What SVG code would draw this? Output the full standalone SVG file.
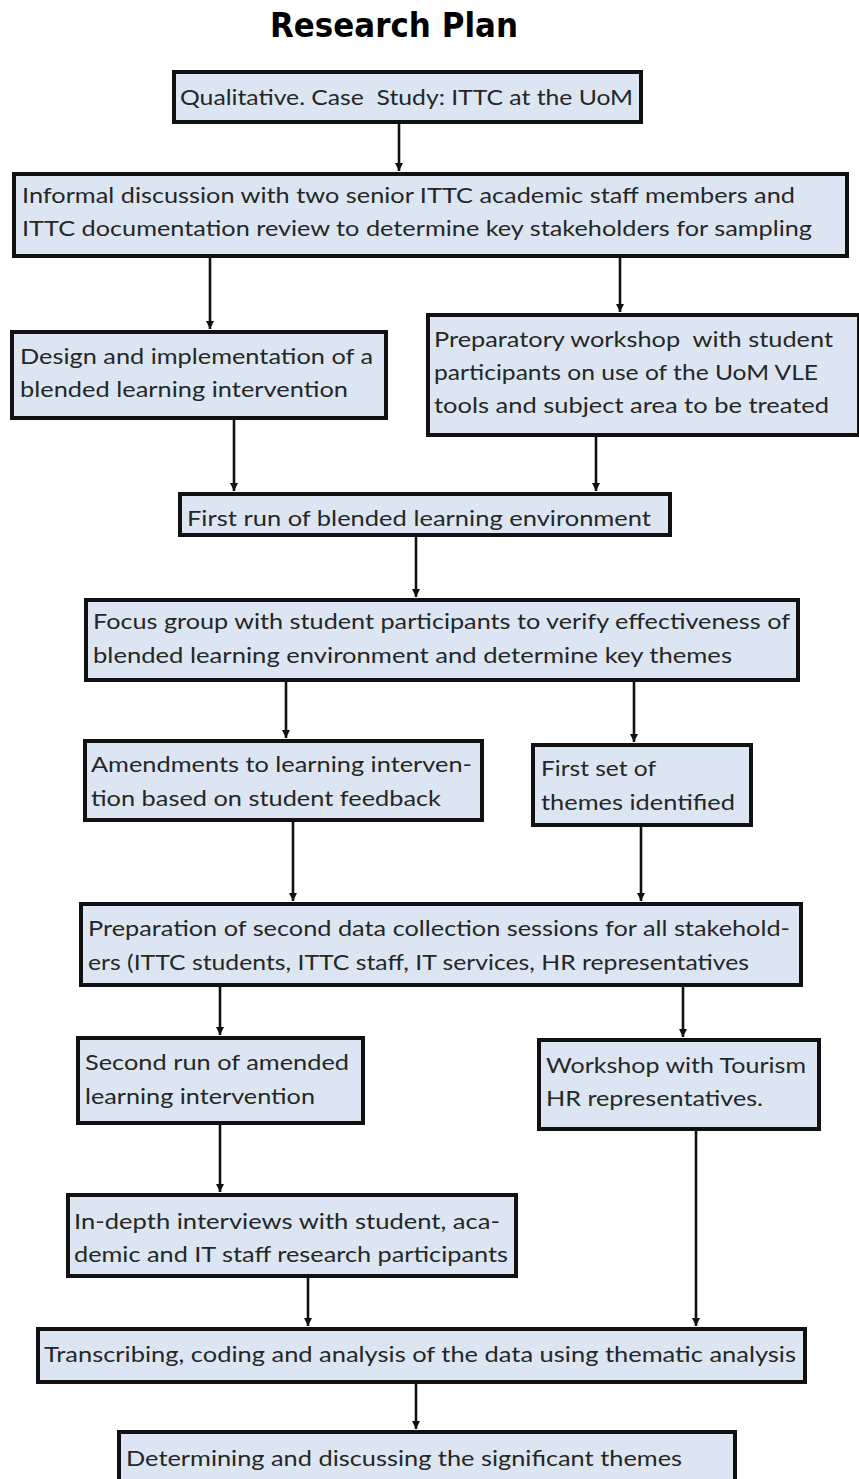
<svg xmlns="http://www.w3.org/2000/svg" width="859" height="1479" viewBox="0 0 859 1479">
  <defs>
    <marker id="arrow" viewBox="0 0 10 10" refX="10" refY="5" markerWidth="3.2" markerHeight="3.2" markerUnits="strokeWidth" orient="auto">
      <path d="M0,0 L10,5 L0,10 z" fill="#111"/>
    </marker>
    <style>
      .box { fill: #dce6f2; stroke: #111; stroke-width: 4; }
      .lbl { font-family: Lato, "Open Sans", "Liberation Sans", sans-serif; font-size: 22px; fill: #262626; }
      .title { font-family: "DejaVu Sans", Verdana, sans-serif; font-weight: bold; font-size: 33px; fill: #000; }
      .conn line { stroke: #111; stroke-width: 2.6; marker-end: url(#arrow); }
    </style>
  </defs>
  <rect width="859" height="1479" fill="#ffffff"/>

  <text class="title" x="270" y="37" textLength="248" lengthAdjust="spacingAndGlyphs">Research Plan</text>

  <!-- connectors -->
  <g class="conn" id="connectors">
    <line x1="399" y1="124" x2="399" y2="171"/>
    <line x1="210" y1="258" x2="210" y2="329"/>
    <line x1="620" y1="258" x2="620" y2="312"/>
    <line x1="234" y1="420" x2="234" y2="491"/>
    <line x1="596" y1="437" x2="596" y2="491"/>
    <line x1="416" y1="537" x2="416" y2="597"/>
    <line x1="286" y1="682" x2="286" y2="738"/>
    <line x1="634" y1="682" x2="634" y2="742"/>
    <line x1="293" y1="822" x2="293" y2="901"/>
    <line x1="641" y1="827" x2="641" y2="901"/>
    <line x1="220" y1="987" x2="220" y2="1035"/>
    <line x1="683" y1="987" x2="683" y2="1037"/>
    <line x1="220" y1="1125" x2="220" y2="1192"/>
    <line x1="696" y1="1131" x2="696" y2="1326"/>
    <line x1="308" y1="1278" x2="308" y2="1326"/>
    <line x1="416" y1="1384" x2="416" y2="1429"/>
  </g>

  <g id="n-case-study">
    <rect class="box" x="174" y="72" width="467" height="50"/>
    <text class="lbl" x="180" y="105" textLength="453" lengthAdjust="spacingAndGlyphs" xml:space="preserve">Qualitative. Case  Study: ITTC at the UoM</text>
  </g>

  <g id="n-informal-discussion">
    <rect class="box" x="14" y="174" width="833" height="82"/>
    <text class="lbl" x="22" y="203" textLength="773" lengthAdjust="spacingAndGlyphs">Informal discussion with two senior ITTC academic staff members and</text>
    <text class="lbl" x="22" y="236" textLength="790" lengthAdjust="spacingAndGlyphs">ITTC documentation review to determine key stakeholders for sampling</text>
  </g>

  <g id="n-design">
    <rect class="box" x="12" y="332" width="374" height="86"/>
    <text class="lbl" x="20" y="364" textLength="353" lengthAdjust="spacingAndGlyphs">Design and implementation of a</text>
    <text class="lbl" x="20" y="397" textLength="328" lengthAdjust="spacingAndGlyphs">blended learning intervention</text>
  </g>

  <g id="n-preparatory-workshop">
    <rect class="box" x="428" y="315" width="431" height="120"/>
    <text class="lbl" x="434" y="347" textLength="399" lengthAdjust="spacingAndGlyphs" xml:space="preserve">Preparatory workshop  with student</text>
    <text class="lbl" x="434" y="380" textLength="384" lengthAdjust="spacingAndGlyphs">participants on use of the UoM VLE</text>
    <text class="lbl" x="434" y="413" textLength="395" lengthAdjust="spacingAndGlyphs">tools and subject area to be treated</text>
  </g>

  <g id="n-first-run">
    <rect class="box" x="180" y="494" width="490" height="41"/>
    <text class="lbl" x="187" y="526" textLength="464" lengthAdjust="spacingAndGlyphs">First run of blended learning environment</text>
  </g>

  <g id="n-focus-group">
    <rect class="box" x="86" y="600" width="712" height="80"/>
    <text class="lbl" x="93" y="629" textLength="697" lengthAdjust="spacingAndGlyphs">Focus group with student participants to verify effectiveness of</text>
    <text class="lbl" x="93" y="663" textLength="639" lengthAdjust="spacingAndGlyphs">blended learning environment and determine key themes</text>
  </g>

  <g id="n-amendments">
    <rect class="box" x="85" y="741" width="397" height="79"/>
    <text class="lbl" x="91" y="772" textLength="381" lengthAdjust="spacingAndGlyphs">Amendments to learning interven-</text>
    <text class="lbl" x="91" y="806" textLength="350" lengthAdjust="spacingAndGlyphs">tion based on student feedback</text>
  </g>

  <g id="n-first-themes">
    <rect class="box" x="533" y="745" width="218" height="80"/>
    <text class="lbl" x="541" y="776" textLength="115" lengthAdjust="spacingAndGlyphs">First set of</text>
    <text class="lbl" x="541" y="810" textLength="194" lengthAdjust="spacingAndGlyphs">themes identified</text>
  </g>

  <g id="n-preparation-second">
    <rect class="box" x="81" y="904" width="720" height="81"/>
    <text class="lbl" x="88" y="936" textLength="702" lengthAdjust="spacingAndGlyphs">Preparation of second data collection sessions for all stakehold-</text>
    <text class="lbl" x="88" y="970" textLength="661" lengthAdjust="spacingAndGlyphs">ers (ITTC students, ITTC staff, IT services, HR representatives</text>
  </g>

  <g id="n-second-run">
    <rect class="box" x="78" y="1038" width="285" height="85"/>
    <text class="lbl" x="85" y="1070" textLength="264" lengthAdjust="spacingAndGlyphs">Second run of amended</text>
    <text class="lbl" x="85" y="1104" textLength="230" lengthAdjust="spacingAndGlyphs">learning intervention</text>
  </g>

  <g id="n-workshop-tourism">
    <rect class="box" x="539" y="1040" width="280" height="89"/>
    <text class="lbl" x="546" y="1073" textLength="260" lengthAdjust="spacingAndGlyphs">Workshop with Tourism</text>
    <text class="lbl" x="546" y="1106" textLength="217" lengthAdjust="spacingAndGlyphs">HR representatives.</text>
  </g>

  <g id="n-interviews">
    <rect class="box" x="68" y="1195" width="448" height="81"/>
    <text class="lbl" x="74" y="1229" textLength="426" lengthAdjust="spacingAndGlyphs">In-depth interviews with student, aca-</text>
    <text class="lbl" x="74" y="1262" textLength="434" lengthAdjust="spacingAndGlyphs">demic and IT staff research participants</text>
  </g>

  <g id="n-transcribing">
    <rect class="box" x="38" y="1329" width="767" height="53"/>
    <text class="lbl" x="44" y="1362" textLength="752" lengthAdjust="spacingAndGlyphs">Transcribing, coding and analysis of the data using thematic analysis</text>
  </g>

  <g id="n-significant-themes">
    <rect class="box" x="119" y="1432" width="616" height="70"/>
    <text class="lbl" x="126" y="1466" textLength="556" lengthAdjust="spacingAndGlyphs">Determining and discussing the significant themes</text>
  </g>
</svg>
